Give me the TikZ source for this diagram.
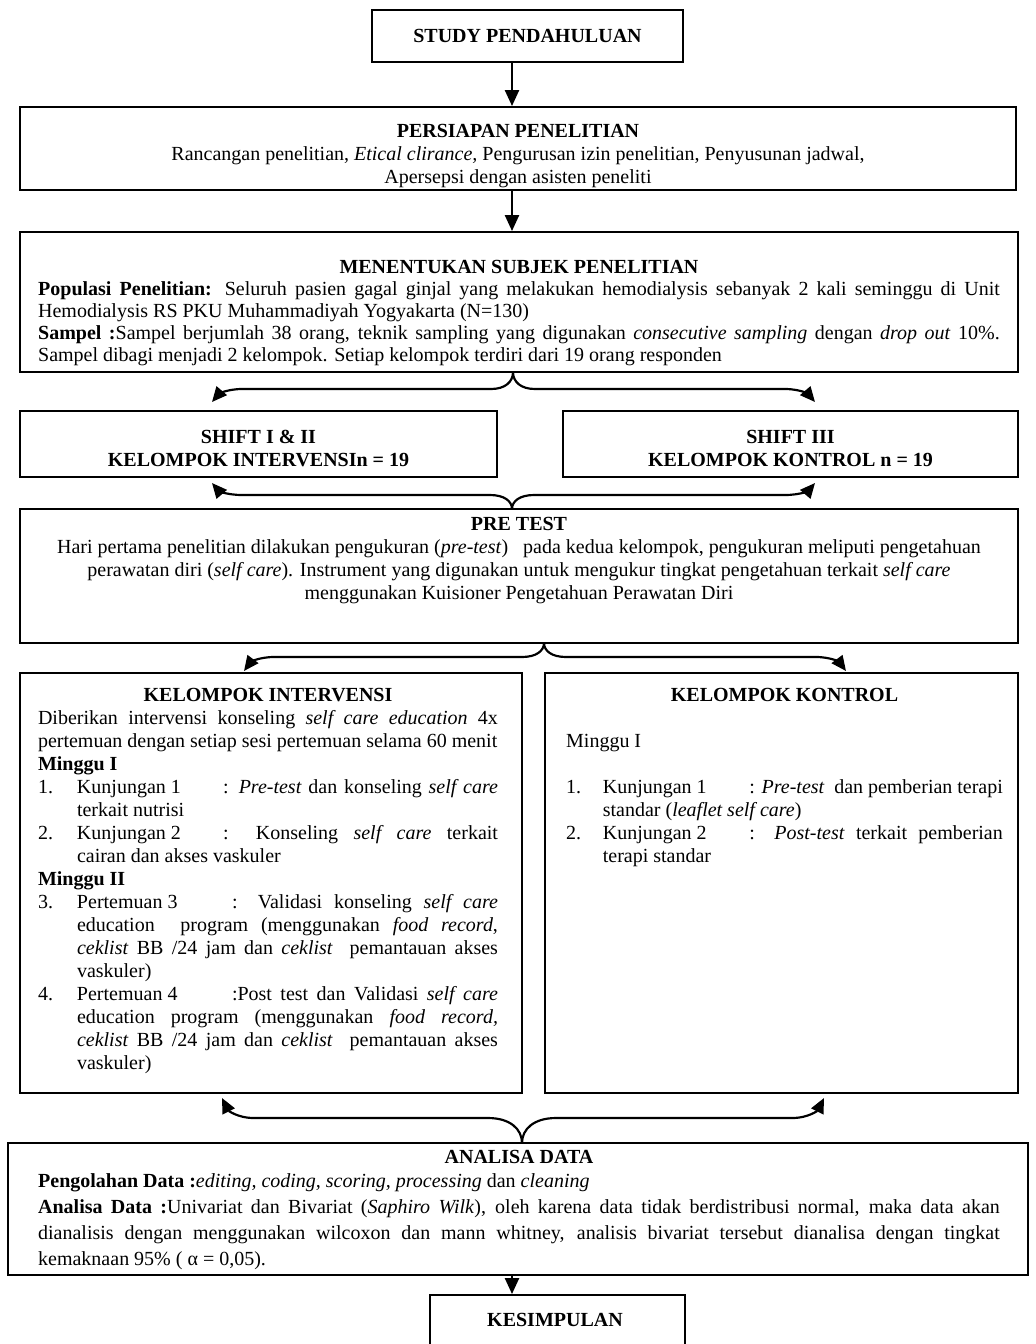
\documentclass[tikz,border=0pt]{standalone}
\usepackage{fontspec}
\setmainfont{Liberation Serif}
\usetikzlibrary{arrows.meta,calc,fit}
\setlength{\parindent}{0pt}
\hyphenpenalty=10000
\exhyphenpenalty=10000
\newcommand{\entry}[5]{{\hangindent=#1\hangafter=1\makebox[#1][l]{#2}\makebox[#3][l]{#4}#5\par}}
\begin{document}
\begin{tikzpicture}[x=0.6pt,y=-0.6pt,
  every node/.style={font=\fontsize{12pt}{13.8pt}\selectfont},
  box/.style={draw, line width=1.2pt, inner sep=0pt},
  txt/.style={inner sep=0pt},
  arr/.style={line width=1.2pt, -{Triangle[length=9.5pt,width=8.4pt]}},
  brc/.style={line width=1.3pt, -{Triangle[length=9pt,width=8pt]}}
]
\useasboundingbox (0,0) rectangle (1036,1344);

% ---------- boxes ----------
\node[box, fit={(372,10) (683,62)}] (study) {};
\node[txt] (tstudy) at (study.center) {\textbf{STUDY PENDAHULUAN}};

\node[box, fit={(20,107) (1016,190)}] (persiapan) {};
\node[txt, align=center, anchor=north] (tpersiapan) at (518,124)
 {\textbf{PERSIAPAN PENELITIAN}\\
  Rancangan penelitian, \textit{Etical clirance,} Pengurusan izin penelitian, Penyusunan jadwal,\\
  Apersepsi dengan asisten peneliti};

\node[box, fit={(20,232) (1018,372)}] (subjek) {};
\node[txt, anchor=north, text width=577pt, align=justify, font=\fontsize{12pt}{13.2pt}\selectfont] (tsubjek) at (519,260)
 {{\centering\textbf{MENENTUKAN SUBJEK PENELITIAN}\par}
  \textbf{Populasi Penelitian:} Seluruh pasien gagal ginjal yang melakukan hemodialysis sebanyak 2 kali seminggu di Unit\linebreak Hemodialysis RS PKU Muhammadiyah Yogyakarta (N=130)\par
  \textbf{Sampel :}Sampel berjumlah 38 orang, teknik sampling yang digunakan \textit{consecutive sampling} dengan \textit{drop out} 10\%.\linebreak Sampel dibagi menjadi 2 kelompok. Setiap kelompok terdiri dari 19 orang responden};

\node[box, fit={(20,411) (497,477)}] (shiftA) {};
\node[txt, align=center] (tshiftA) at ($(shiftA.center)+(0,4)$)
 {\textbf{SHIFT I \& II}\\\textbf{KELOMPOK INTERVENSIn = 19}};
\node[box, fit={(563,411) (1018,477)}] (shiftB) {};
\node[txt, align=center] (tshiftB) at ($(shiftB.center)+(0,4)$)
 {\textbf{SHIFT III}\\\textbf{KELOMPOK KONTROL n = 19}};

\node[box, fit={(20,509) (1018,643)}] (pretest) {};
\node[txt, align=center, anchor=north] (tpretest) at (519,517)
 {\textbf{PRE TEST}\\
  Hari pertama penelitian dilakukan pengukuran (\textit{pre-test})\ \ \ pada kedua kelompok, pengukuran meliputi pengetahuan\\
  perawatan diri (\textit{self care}). Instrument yang digunakan untuk mengukur tingkat pengetahuan terkait \textit{self care}\\
  menggunakan Kuisioner Pengetahuan Perawatan Diri};

\node[box, fit={(20,673) (522,1093)}] (interv) {};
\node[txt, anchor=north, text width=276pt, align=justify] (tinterv) at (268,688)
 {{\centering\textbf{KELOMPOK INTERVENSI}\par}
  Diberikan intervensi konseling \textit{self care education} 4x pertemuan dengan setiap sesi pertemuan selama 60 menit\par
  \textbf{Minggu I}\par
  \entry{23.4pt}{1.}{87.6pt}{Kunjungan 1}{: \textit{Pre-test} dan konseling \textit{self care}\linebreak terkait nutrisi}
  \entry{23.4pt}{2.}{87.6pt}{Kunjungan 2}{: Konseling \textit{self care} terkait\linebreak cairan dan akses vaskuler}
  \textbf{Minggu II}\par
  \entry{23.4pt}{3.}{93pt}{Pertemuan 3}{: Validasi konseling \textit{self care}\linebreak education\ \ program (menggunakan \textit{food record},\linebreak \textit{ceklist} BB /24 jam dan \textit{ceklist}\ \ pemantauan akses\linebreak vaskuler)}
  \entry{23.4pt}{4.}{93pt}{Pertemuan 4}{:Post test dan Validasi \textit{self care}\linebreak education program (menggunakan \textit{food record,}\linebreak \textit{ceklist} BB /24 jam dan \textit{ceklist}\ \ pemantauan akses\linebreak vaskuler)}};

\node[box, fit={(545,673) (1018,1093)}] (kontrol) {};
\node[txt, anchor=north, text width=262pt, align=justify] (tkontrol) at (784.5,688)
 {{\centering\textbf{KELOMPOK KONTROL}\par}
  \mbox{}\par
  Minggu I\par
  \mbox{}\par
  \entry{22pt}{1.}{88pt}{Kunjungan 1}{: \textit{Pre-test}\ \ dan pemberian terapi\linebreak standar (\textit{leaflet self care})}
  \entry{22pt}{2.}{88pt}{Kunjungan 2}{: \textit{Post-test} terkait pemberian\linebreak terapi standar}};

\node[box, fit={(8,1143) (1028,1275)}] (analisa) {};
\node[txt, anchor=north, text width=577pt, align=justify, font=\fontsize{12pt}{15.6pt}\selectfont] (tanalisa) at (519,1150)
 {{\centering\textbf{ANALISA DATA}\par}\vspace{-1.5pt}
  \textbf{Pengolahan Data :}\textit{editing, coding, scoring, processing} dan \textit{cleaning}\par
  \textbf{Analisa Data :}Univariat dan Bivariat (\textit{Saphiro Wilk}), oleh karena data tidak berdistribusi normal, maka data akan\linebreak dianalisis dengan menggunakan wilcoxon dan mann whitney, analisis bivariat tersebut dianalisa dengan tingkat\linebreak kemaknaan 95\% ( α = 0,05).};

\node[box, fit={(430,1295) (685,1380)}] (kesimpulan) {};
\node[txt] (tkesimpulan) at (555,1320) {\textbf{KESIMPULAN}};

% ---------- straight arrows ----------
\coordinate (ax) at (512,0);
\draw[arr] (study.south -| ax) -- (persiapan.north -| ax);
\draw[arr] (persiapan.south -| ax) -- (subjek.north -| ax);
\draw[arr] (analisa.south -| ax) -- (kesimpulan.north -| ax);

% ---------- brace 1 (subjek -> shifts) ----------
\coordinate (c1) at (513,372);
\coordinate (t1l) at (212,402);
\coordinate (t1r) at (815,402);
\draw[brc] (c1) .. controls ($(c1)+(0,10)$) and ($(c1)+(-8,17)$) .. ($(c1)+(-22,17)$)
  -- ($(t1l)+(30,-13)$) .. controls ($(t1l)+(14,-13)$) and ($(t1l)+(6,-7)$) .. (t1l);
\draw[brc] (c1) .. controls ($(c1)+(0,10)$) and ($(c1)+(8,17)$) .. ($(c1)+(22,17)$)
  -- ($(t1r)+(-30,-13)$) .. controls ($(t1r)+(-14,-13)$) and ($(t1r)+(-6,-7)$) .. (t1r);

% ---------- brace 2 (shifts -> pretest) ----------
\coordinate (c2) at (512,509);
\coordinate (t2l) at (212,483);
\coordinate (t2r) at (815,483);
\draw[brc] (c2) .. controls ($(c2)+(0,-8)$) and ($(c2)+(-8,-14)$) .. ($(c2)+(-22,-14)$)
  -- ($(t2l)+(30,12)$) .. controls ($(t2l)+(14,12)$) and ($(t2l)+(6,7)$) .. (t2l);
\draw[brc] (c2) .. controls ($(c2)+(0,-8)$) and ($(c2)+(8,-14)$) .. ($(c2)+(22,-14)$)
  -- ($(t2r)+(-30,12)$) .. controls ($(t2r)+(-14,12)$) and ($(t2r)+(-6,7)$) .. (t2r);

% ---------- brace 3 (pretest -> kelompok) ----------
\coordinate (c3) at (544,643);
\coordinate (t3l) at (244,671);
\coordinate (t3r) at (846,671);
\draw[brc] (c3) .. controls ($(c3)+(0,8)$) and ($(c3)+(-8,14)$) .. ($(c3)+(-22,14)$)
  -- ($(t3l)+(30,-14)$) .. controls ($(t3l)+(14,-14)$) and ($(t3l)+(6,-8)$) .. (t3l);
\draw[brc] (c3) .. controls ($(c3)+(0,8)$) and ($(c3)+(8,14)$) .. ($(c3)+(22,14)$)
  -- ($(t3r)+(-30,-14)$) .. controls ($(t3r)+(-14,-14)$) and ($(t3r)+(-6,-8)$) .. (t3r);

% ---------- brace 4 (kelompok -> analisa) ----------
\coordinate (c4) at (522,1143);
\coordinate (t4l) at (222,1098);
\coordinate (t4r) at (824,1098);
\draw[brc] (c4) .. controls ($(c4)+(0,-14)$) and ($(c4)+(-12,-25)$) .. ($(c4)+(-34,-25)$)
  -- ($(t4l)+(32,20)$) .. controls ($(t4l)+(15,20)$) and ($(t4l)+(6,12)$) .. (t4l);
\draw[brc] (c4) .. controls ($(c4)+(0,-14)$) and ($(c4)+(12,-25)$) .. ($(c4)+(34,-25)$)
  -- ($(t4r)+(-32,20)$) .. controls ($(t4r)+(-15,20)$) and ($(t4r)+(-6,12)$) .. (t4r);
\end{tikzpicture}
\end{document}
